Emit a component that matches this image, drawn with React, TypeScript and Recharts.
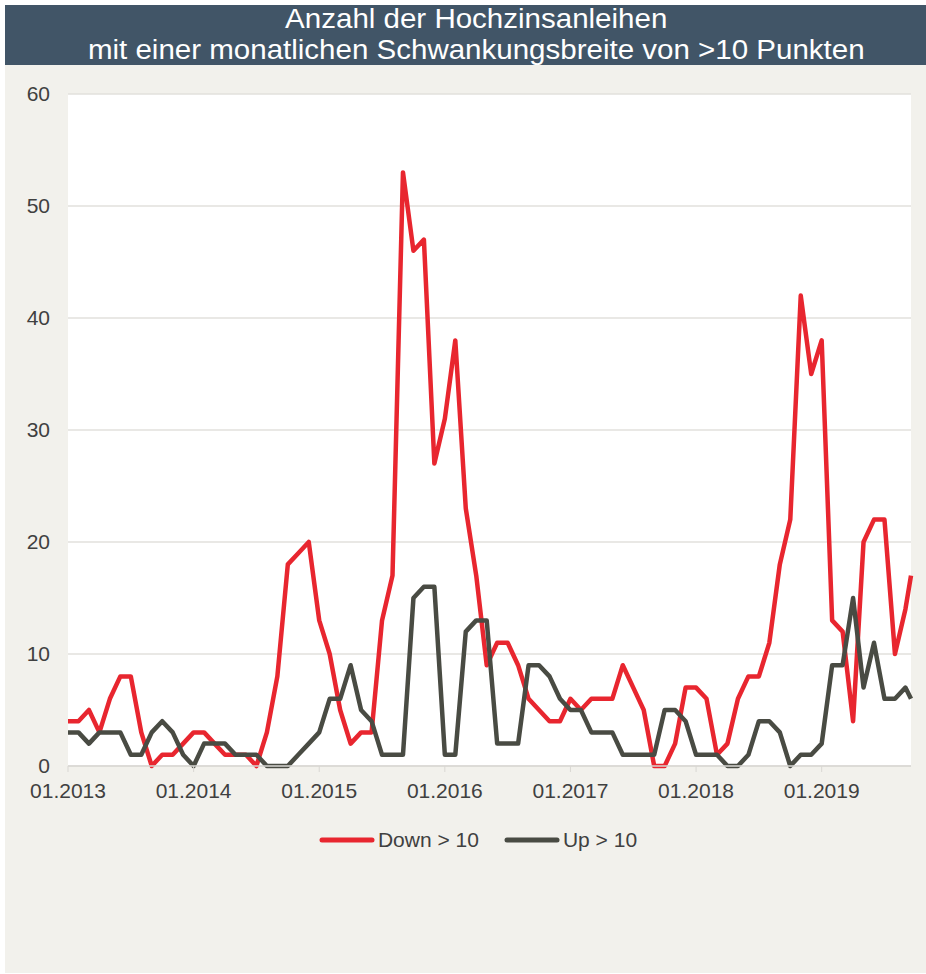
import { LineChart, Line, XAxis, YAxis, CartesianGrid, Legend } from 'recharts'

const FONT = "'Liberation Sans', Arial, sans-serif"

// monthly observations from 01.2013, the last one is a mid-September 2019 reading
const startYear = 2013
const dates: string[] = [
  ...Array.from({ length: 81 }, (_, i) => {
    const y = startYear + Math.floor(i / 12)
    const m = String((i % 12) + 1).padStart(2, '0')
    return `${y}-${m}-01`
  }),
  '2019-09-17',
]

const downOver10 = [
  4, 4, 5, 3, 6, 8, 8, 3, 0, 1, 1, 2,
  3, 3, 2, 1, 1, 1, 0, 3, 8, 18, 19, 20,
  13, 10, 5, 2, 3, 3, 13, 17, 53, 46, 47, 27,
  31, 38, 23, 17, 9, 11, 11, 9, 6, 5, 4, 4,
  6, 5, 6, 6, 6, 9, 7, 5, 0, 0, 2, 7,
  7, 6, 1, 2, 6, 8, 8, 11, 18, 22, 42, 35,
  38, 13, 12, 4, 20, 22, 22, 10, 14, 17,
]

const upOver10 = [
  3, 3, 2, 3, 3, 3, 1, 1, 3, 4, 3, 1,
  0, 2, 2, 2, 1, 1, 1, 0, 0, 0, 1, 2,
  3, 6, 6, 9, 5, 4, 1, 1, 1, 15, 16, 16,
  1, 1, 12, 13, 13, 2, 2, 2, 9, 9, 8, 6,
  5, 5, 3, 3, 3, 1, 1, 1, 1, 5, 5, 4,
  1, 1, 1, 0, 0, 1, 4, 4, 3, 0, 1, 1,
  2, 9, 9, 15, 7, 11, 6, 6, 7, 6,
]

const titleLines = [
  'Anzahl der Hochzinsanleihen',
  'mit einer monatlichen Schwankungsbreite von >10 Punkten',
]

const yTicks = [0, 10, 20, 30, 40, 50, 60]
const xTicks = [0, 12, 24, 36, 48, 60, 72]

// months since 01.2013 (fractional for the day of month)
const toMonthIndex = (d: string): number => {
  const [y, m, day] = d.split('-').map(Number)
  return (y - startYear) * 12 + (m - 1) + (day - 1) / 30
}

const data = dates.map((d, i) => ({
  x: toMonthIndex(d),
  down: downOver10[i],
  up: upOver10[i],
}))

const lastX = data[data.length - 1].x

const formatTick = (v: number): string => `01.${startYear + Math.round(v / 12)}`

const renderLegend = (props: any) => {
  const items = props.payload || []
  return (
    <div
      style={{
        display: 'flex',
        justifyContent: 'center',
        alignItems: 'center',
        height: 70,
        paddingTop: 18,
        paddingLeft: 30,
        boxSizing: 'border-box',
        fontFamily: FONT,
        fontSize: 21,
        color: '#404040',
      }}
    >
      {items.map((entry: any, i: number) => (
        <div key={entry.value} style={{ display: 'flex', alignItems: 'center', marginLeft: i > 0 ? 25 : 0 }}>
          <svg width={56} height={8}>
            <line x1={3} y1={4} x2={53} y2={4} stroke={entry.color} strokeWidth={5} strokeLinecap="round" />
          </svg>
          <span style={{ marginLeft: 3 }}>{entry.value}</span>
        </div>
      ))}
    </div>
  )
}

export default function App() {
  return (
    <div
      style={{
        position: 'absolute',
        left: 0,
        top: 0,
        width: 926,
        height: 974,
        background: '#ffffff',
        fontFamily: FONT,
      }}
    >
      <div style={{ position: 'absolute', left: 5, top: 5, width: 921, height: 968, background: '#f2f1ec' }} />
      <div style={{ position: 'absolute', left: 5, top: 5, width: 921, height: 60, background: '#415567' }} />
      <div
        style={{
          position: 'absolute',
          left: 5,
          top: 3,
          width: 921,
          paddingLeft: 20,
          boxSizing: 'border-box',
          color: '#ffffff',
          textAlign: 'center',
          fontSize: 27.5,
          lineHeight: '31px',
          whiteSpace: 'nowrap',
          transform: 'scaleX(1.073)',
        }}
      >
        {titleLines.map(t => (
          <div key={t}>{t}</div>
        ))}
      </div>
      <div style={{ position: 'absolute', left: 0, top: 0 }}>
        <LineChart
          width={926}
          height={866}
          data={data}
          margin={{ top: 94, right: 15, bottom: 0, left: 8 }}
        >
          <CartesianGrid vertical={false} stroke="#e2e0dc" strokeWidth={1.5} fill="#ffffff" />
          <XAxis
            dataKey="x"
            type="number"
            domain={[0, lastX]}
            ticks={xTicks}
            interval={0}
            tickFormatter={formatTick}
            axisLine={{ stroke: '#d9d7d3', strokeWidth: 1.5 }}
            tickLine={{ stroke: '#d9d7d3' }}
            tickSize={6}
            tickMargin={11}
            height={30}
            tick={{ fill: '#404040', fontSize: 21 }}
          />
          <YAxis
            domain={[0, 60]}
            ticks={yTicks}
            width={60}
            axisLine={false}
            tickLine={false}
            tickMargin={12}
            tick={{ fill: '#404040', fontSize: 21 }}
          />
          <Legend verticalAlign="bottom" height={70} content={renderLegend} wrapperStyle={{ left: 0, width: 926 }} />
          <Line
            type="linear"
            dataKey="down"
            name="Down > 10"
            stroke="#e8262f"
            strokeWidth={4.5}
            strokeLinejoin="round"
            dot={false}
            isAnimationActive={false}
          />
          <Line
            type="linear"
            dataKey="up"
            name="Up > 10"
            stroke="#494b43"
            strokeWidth={4.5}
            strokeLinejoin="round"
            dot={false}
            isAnimationActive={false}
          />
        </LineChart>
      </div>
    </div>
  )
}
